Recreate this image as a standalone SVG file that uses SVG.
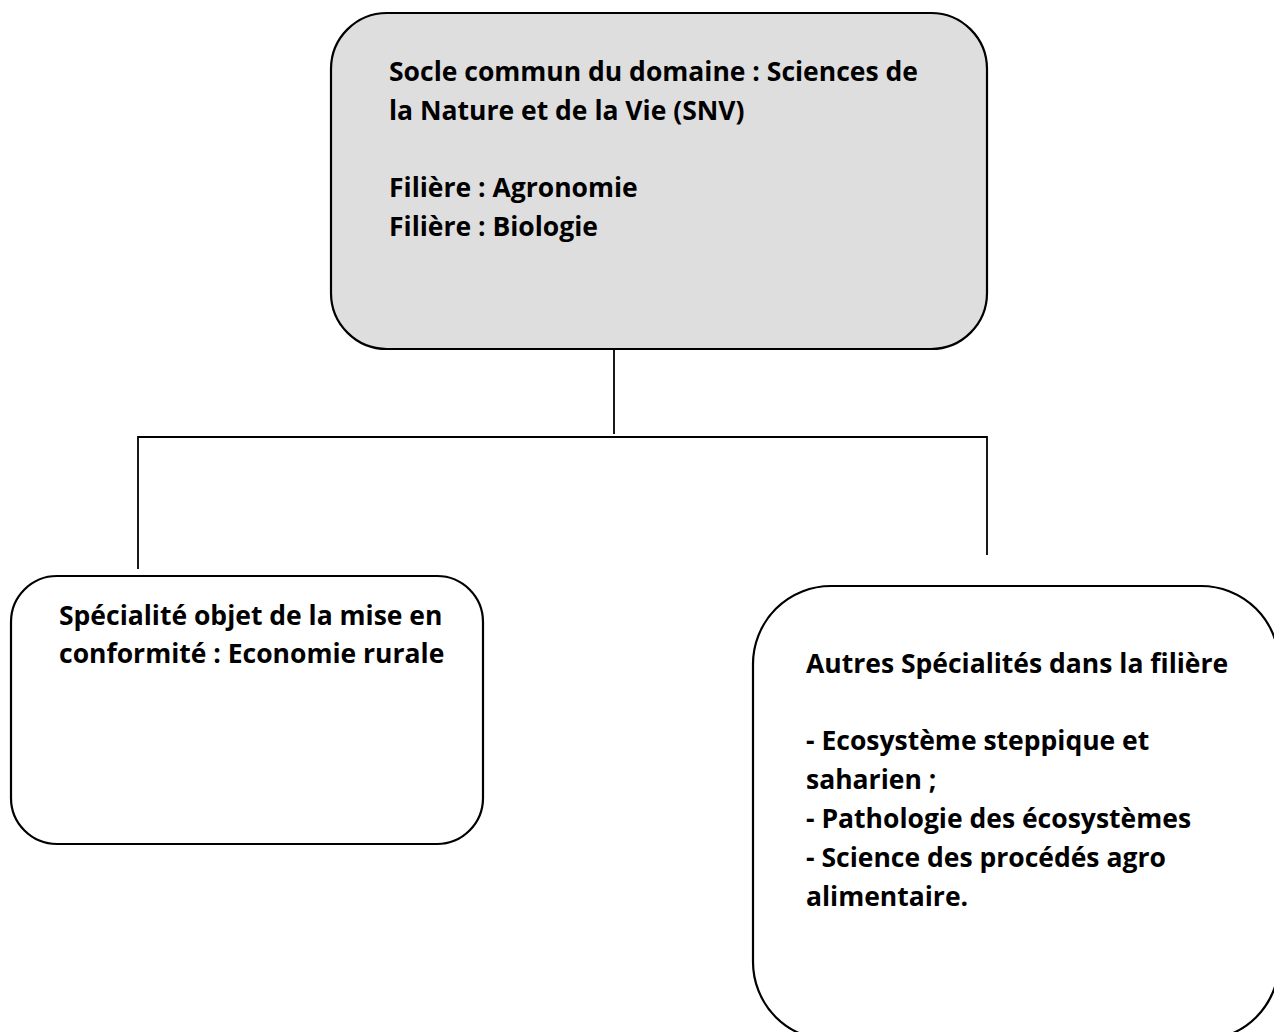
<svg xmlns="http://www.w3.org/2000/svg" width="1274" height="1032" viewBox="0 0 1274 1032">
<style>
.box{stroke:#000;stroke-width:2.2;}
.t{font-family:"Open Sans","Liberation Sans",sans-serif;font-weight:bold;font-size:26.5px;fill:#000;}
.c{stroke:#000;stroke-width:1.8;fill:none;}
</style>
<rect width="1274" height="1032" fill="#fff"/>
<g id="connectors">
<line class="c" x1="614" y1="350" x2="614" y2="434"/>
<polyline class="c" points="138,569 138,437 987,437 987,555"/>
</g>
<g id="node-socle">
<rect class="box" x="331" y="13" width="656" height="336" rx="56" ry="56" fill="#dedede"/>
<text class="t" x="389" y="81">Socle commun du domaine : Sciences de</text>
<text class="t" x="389" y="120">la Nature et de la Vie (SNV)</text>
<text class="t" x="389" y="197">Filière : Agronomie</text>
<text class="t" x="389" y="236">Filière : Biologie</text>
</g>
<g id="node-specialite">
<rect class="box" x="11" y="576" width="472" height="268" rx="46" ry="46" fill="#fff"/>
<text class="t" x="59" y="625">Spécialité objet de la mise en</text>
<text class="t" x="59" y="663">conformité : Economie rurale</text>
</g>
<g id="node-autres">
<rect class="box" x="753" y="586" width="526" height="454" rx="78" ry="78" fill="#fff"/>
<text class="t" x="806" y="673">Autres Spécialités dans la filière</text>
<text class="t" x="806" y="750">- Ecosystème steppique et</text>
<text class="t" x="806" y="789">saharien ;</text>
<text class="t" x="806" y="828">- Pathologie des écosystèmes</text>
<text class="t" x="806" y="867">- Science des procédés agro</text>
<text class="t" x="806" y="906">alimentaire.</text>
</g>
</svg>
